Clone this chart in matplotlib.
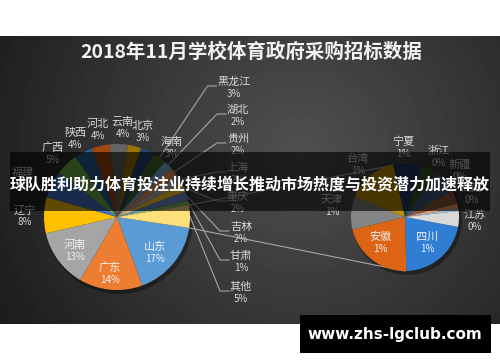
import numpy as np
import matplotlib
matplotlib.use("Agg")
import matplotlib.pyplot as plt
from matplotlib.patches import Rectangle, Circle

plt.rcParams['font.family'] = ['Noto Sans CJK SC', 'DejaVu Sans']

title = "2018年11月学校体育政府采购招标数据"
banner = "球队胜利助力体育投注业持续增长推动市场热度与投资潜力加速释放"
site = "www.zhs-lgclub.com"

# main pie, share in %
main_names = ["山东", "广东", "河南", "辽宁", "福建", "广西", "陕西", "河北", "云南", "北京",
              "海南", "黑龙江", "湖北", "贵州", "上海", "重庆", "吉林", "甘肃", "其他"]
main_vals = [17, 14, 13, 8, 6, 5, 4, 4, 4, 3, 3, 3, 2, 2, 2, 2, 2, 1, 5]
main_pcts = ["17%", "14%", "13%", "8%", "6%", "5%", "4%", "4%", "4%", "3%",
             "3%", "3%", "2%", "2%", "2%", "2%", "2%", "1%", "5%"]
main_colors = ["#5B9BD5", "#ED7D31", "#A5A5A5", "#FFC000", "#4472C4", "#70AD47",
               "#255E91", "#9E480E", "#636363", "#997300", "#264478", "#43682B",
               "#7CAFDD", "#F1975A", "#B7B7B7", "#FFCD33", "#698ED0", "#8CC168", "#FFE07A"]

# second pie = breakdown of 其他
sub_names = ["四川", "安徽", "天津", "台湾", "宁夏", "浙江", "新疆", "湖南", "山西", "江西", "江苏"]
sub_vals = [1.1, 1.1, 0.5, 0.78, 0.45, 0.24, 0.35, 0.21, 0.07, 0.04, 0.24]
sub_pcts = ["1%", "1%", "1%", "1%", "1%", "0%", "0%", "0%", "", "", "0%"]
sub_colors = ["#2F7ED3", "#DC6414", "#858585", "#BF9000", "#1F3864", "#385723",
              "#41597A", "#8B5A3C", "#F4A070", "#9DC3E6", "#D9D9D9"]

H = 362
def Y(y):
    return H - y

# label positions (image px), None = no label
main_lab = [(155, 247), (110, 268), (75, 245), (25, 210), (23, 172), (53, 148), (75, 133),
            (98, 124), (123, 122), (143, 126), (172, 142), (234, 82), (238, 110), (238, 139),
            (238, 168), (238, 197), (241, 227), (241, 256), (241, 287)]
main_inside = 3          # first three labels sit inside the pie
main_leader = 11         # labels from here on get leader lines
sub_lab = [(427, 237), (380, 237), (332, 200), (358, 159), (403, 142), (439, 151),
           (460, 165), (472, 188), None, None, (475, 215)]

fig = plt.figure(figsize=(5, 3.62), dpi=100, facecolor="white")
ax = fig.add_axes([0, 0, 1, 1])
ax.axis("off")

# dark radial background
gx, gy = np.meshgrid(np.arange(500), np.arange(36, 324))
d = np.hypot(gx - 300, gy - 150) / 347.0
bg = 80 - 52 * d
ax.imshow(bg, cmap="gray", vmin=0, vmax=255, extent=(0, 500, Y(324), Y(36)),
          aspect="auto", interpolation="bilinear", zorder=0)

ax.text(251, Y(52), title, color="#F2F2F2", fontsize=14, fontweight="bold",
        ha="center", va="center", zorder=4)

c1, r1, st1 = (117, Y(217)), 73, -8.6
c2, r2, st2 = (405, Y(217)), 54, -10.6

for c, r in [(c1, r1), (c2, r2)]:
    ax.add_patch(Circle((c[0] + 2, c[1] - 3), r + 1, color="black", alpha=0.35, lw=0, zorder=2))

ax.pie(main_vals, colors=main_colors, startangle=st1, counterclock=False, center=c1,
       radius=r1, frame=True, wedgeprops=dict(linewidth=0, zorder=3))
ax.pie(sub_vals, colors=sub_colors, startangle=st2, counterclock=False, center=c2,
       radius=r2, frame=True, wedgeprops=dict(linewidth=0, zorder=3))

tot1 = sum(main_vals)
cum = np.concatenate([[0], np.cumsum(main_vals)])
ang = st1 - cum / tot1 * 360

# connector lines between 其他 slice and the second pie
for a, yend in [(ang[-2], c2[1] + r2), (ang[-1], c2[1] - r2)]:
    x0 = c1[0] + r1 * np.cos(np.radians(a))
    y0 = c1[1] + r1 * np.sin(np.radians(a))
    ax.plot([x0, c2[0]], [y0, yend], color="#A6A6A6", lw=0.8, zorder=2.5)

for i, (nm, pc, pos) in enumerate(zip(main_names, main_pcts, main_lab)):
    x, y = pos
    col = "#F2F2F2" if i < main_inside else "#D9D9D9"
    ax.text(x, Y(y), nm, color=col, fontsize=8, ha="center", va="center", zorder=4)
    ax.text(x, Y(y + 12), pc, color=col, fontsize=7, ha="center", va="center", zorder=4)
    if i >= main_leader:
        mid = np.radians((ang[i] + ang[i + 1]) / 2)
        ex = c1[0] + r1 * np.cos(mid)
        ey = c1[1] + r1 * np.sin(mid)
        left = x - len(nm) * 5.5 - 1
        ax.plot([ex, left - 9, left], [ey, Y(y + 4), Y(y + 4)], color="#A6A6A6",
                lw=0.8, zorder=2.5)

for i, (nm, pc, pos) in enumerate(zip(sub_names, sub_pcts, sub_lab)):
    if pos is None:
        continue
    x, y = pos
    col = "#F2F2F2" if i < 2 else "#D9D9D9"
    ax.text(x, Y(y), nm, color=col, fontsize=8, ha="center", va="center", zorder=4)
    ax.text(x, Y(y + 12), pc, color=col, fontsize=7, ha="center", va="center", zorder=4)

# overlay banner and site mark
ax.add_patch(Rectangle((10, Y(211)), 480, 59, color="black", alpha=0.62, lw=0, zorder=5))
ax.text(250, Y(184), banner, color="white", fontsize=11.5, fontweight="bold",
        ha="center", va="center", zorder=6)
ax.add_patch(Rectangle((300, Y(353)), 191, 38, color="black", lw=0, zorder=6))
ax.text(395, Y(335), site, color="white", fontsize=11, fontweight="bold",
        family="DejaVu Sans", ha="center", va="center", zorder=7)

ax.set_aspect("auto")
ax.set_xlim(0, 500)
ax.set_ylim(0, H)
fig.savefig("out.png", dpi=100, facecolor="white")
